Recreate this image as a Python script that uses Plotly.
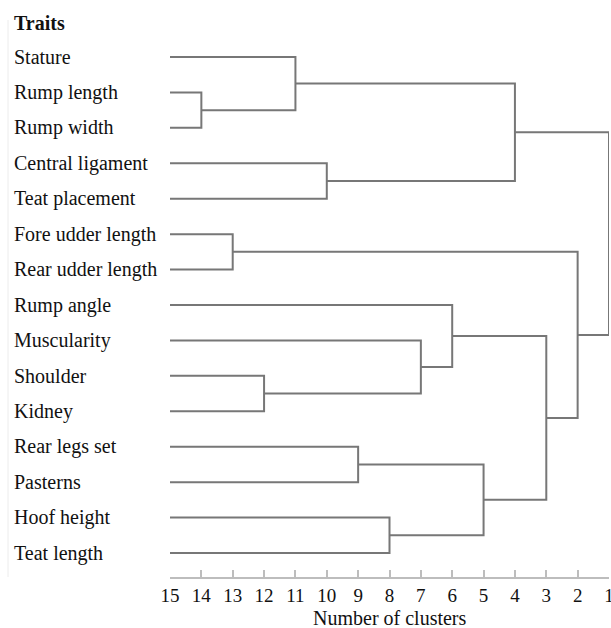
import plotly.graph_objects as go

traits = ["Stature", "Rump length", "Rump width", "Central ligament", "Teat placement",
          "Fore udder length", "Rear udder length", "Rump angle", "Muscularity", "Shoulder",
          "Kidney", "Rear legs set", "Pasterns", "Hoof height", "Teat length"]

# merges: node ids 0..14 are leaves, new clusters get ids 15, 16, ...
merge_left = [1, 5, 9, 0, 3, 11, 13, 8, 7, 20, 18, 23, 16, 25]
merge_right = [2, 6, 10, 15, 4, 12, 14, 17, 22, 21, 19, 24, 26, 27]
merge_level = [14, 13, 12, 11, 10, 9, 8, 7, 6, 5, 4, 3, 2, 1]

x_ticks = list(range(15, 0, -1))
x_title = "Number of clusters"
leaf_level = 15

n = len(traits)
ypos = {i: float(i) for i in range(n)}
xpos = {i: float(leaf_level) for i in range(n)}

xs, ys = [], []
for k, (a, b, lev) in enumerate(zip(merge_left, merge_right, merge_level)):
    node = n + k
    xs += [xpos[a], lev, lev, xpos[b], None]
    ys += [ypos[a], ypos[a], ypos[b], ypos[b], None]
    ypos[node] = (ypos[a] + ypos[b]) / 2
    xpos[node] = lev

LINE = "#777777"
FONT = "Liberation Serif"

fig = go.Figure()
fig.add_trace(go.Scatter(x=xs, y=ys, mode="lines",
                         line=dict(color=LINE, width=2), hoverinfo="skip",
                         showlegend=False))

annotations = []
for i, t in enumerate(traits):
    annotations.append(dict(x=0, xref="paper", xshift=-158, y=i, yref="y",
                            text=t, showarrow=False, xanchor="left", yanchor="middle",
                            font=dict(family=FONT, size=20, color="#111")))
annotations.append(dict(x=0, xref="paper", xshift=-158, y=-0.97, yref="y",
                        text="<b>Traits</b>", showarrow=False, xanchor="left",
                        yanchor="middle", font=dict(family=FONT, size=20, color="#111")))
annotations.append(dict(x=0.5, xref="paper", y=0, yref="paper", yshift=-41,
                        text=x_title, showarrow=False, xanchor="center",
                        yanchor="middle", font=dict(family=FONT, size=20, color="#111")))

fig.update_layout(
    width=611, height=628,
    margin=dict(l=170, r=2, t=20, b=51),
    paper_bgcolor="white", plot_bgcolor="white",
    annotations=annotations,
    xaxis=dict(range=[15, 1], tickvals=x_ticks, ticktext=[str(v) for v in x_ticks],
               automargin=False,
               showgrid=False, zeroline=False, showline=True, linecolor="#bdbdbd",
               linewidth=1.5, ticks="inside", ticklen=7, tickcolor="#bdbdbd",
               tickwidth=1.5, ticklabeloverflow="allow",
               tickfont=dict(family=FONT, size=19, color="#111")),
    yaxis=dict(range=[14.677, -1.044], showgrid=False, zeroline=False,
               showticklabels=False, showline=False, automargin=False),
    shapes=[dict(type="line", xref="paper", yref="paper", x0=-162 / 439, x1=-162 / 439,
                 y0=0.0, y1=1.0, line=dict(color="#ececec", width=1))],
)

fig.write_html("out.html", config={"displayModeBar": False},
               post_script="document.body.style.margin='0';document.body.style.overflow='hidden';")
